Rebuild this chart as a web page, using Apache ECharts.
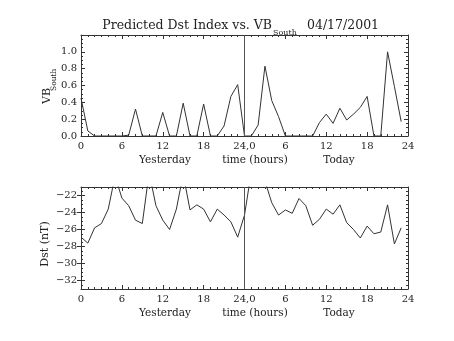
<!DOCTYPE html>
<html>
<head>
<meta charset="utf-8">
<script src="https://cdn.jsdelivr.net/npm/echarts@6/dist/echarts.min.js"></script>
<style>html,body{margin:0;padding:0;background:#fff}#c{width:454px;height:341px}</style>
</head>
<body>
<div id="c"></div>
<script>
const hours = [0,1,2,3,4,5,6,7,8,9,10,11,12,13,14,15,16,17,18,19,20,21,22,23,
               24,25,26,27,28,29,30,31,32,33,34,35,36,37,38,39,40,41,42,43,44,45,46,47];
const vbSouth = [0.45,0.06,0,0,0,0,0,0.01,0.32,0,0,0,0.28,0,0,0.39,0,0,0.38,0,0,0.12,0.47,0.61,
                 0,0,0.13,0.83,0.42,0.23,0,0,0,0,0,0.16,0.26,0.15,0.33,0.19,0.26,0.34,0.47,0,0,1.0,0.59,0.17];
const dst = [-26.9,-27.6,-25.8,-25.3,-23.6,-19.7,-22.3,-23.2,-24.9,-25.3,-19.3,-23.2,-24.9,-26.0,-23.6,-19.5,-23.7,-23.1,-23.6,-25.1,-23.6,-24.3,-25.1,-26.9,
             -24.3,-19.2,-18.5,-20.3,-22.85,-24.3,-23.7,-24.1,-22.35,-23.2,-25.5,-24.8,-23.6,-24.2,-23.1,-25.2,-26.0,-27.0,-25.6,-26.5,-26.3,-23.1,-27.7,-25.8];
const xTickLabels = ['0','6','12','18','24,0','6','12','18','24'];
const vbTickLabels = ['0.0','0.2','0.4','0.6','0.8','1.0'];
const dstTickValues = [-32,-30,-28,-26,-24,-22];
const titleMain = 'Predicted Dst Index vs. VB';
const titleSub = 'South';
const titleDate = '04/17/2001';
const xTitles = ['Yesterday','time (hours)','Today'];

const C = '#333', T = '#222', F = '"DejaVu Serif", serif';
const chart = echarts.init(document.getElementById('c'));

function xAx(grid, pos, labels) {
  return {type:'value', gridIndex:grid, position:pos, min:0, max:48, interval:6,
    axisLine:{show:true, onZero:false, lineStyle:{color:C, width:1}},
    axisTick:{show:true, inside:true, length:4, lineStyle:{color:C, width:1}},
    minorTick:{show:true, splitNumber:6, length:2, lineStyle:{color:C, width:1}},
    splitLine:{show:false}, minorSplitLine:{show:false},
    axisLabel:{show:labels, margin:5, color:T, fontFamily:F, fontSize:10,
      formatter: v => xTickLabels[Math.round(v/6)] || ''}};
}
function yTop(pos, labels) {
  return {type:'value', gridIndex:0, position:pos, min:0, max:1.2, interval:0.2,
    axisLine:{show:true, onZero:false, lineStyle:{color:C, width:1}},
    axisTick:{show:true, inside:true, length:4, lineStyle:{color:C, width:1}},
    minorTick:{show:true, splitNumber:4, length:2, lineStyle:{color:C, width:1}},
    splitLine:{show:false}, minorSplitLine:{show:false},
    axisLabel:{show:labels, margin:4, color:T, fontFamily:F, fontSize:10,
      formatter: v => vbTickLabels[Math.round(v/0.2)] || ''}};
}
function yBotMinor(pos) {
  return {type:'value', gridIndex:1, position:pos, min:-33, max:-21, interval:0.5,
    axisLine:{show:true, onZero:false, lineStyle:{color:C, width:1}},
    axisTick:{show:true, inside:true, length:2, lineStyle:{color:C, width:1}},
    splitLine:{show:false}, axisLabel:{show:false}};
}
function yBotMajor(pos, labels) {
  return {type:'value', gridIndex:1, position:pos, min:-33, max:-21,
    axisLine:{show:false},
    axisTick:{show:true, inside:true, length:4, customValues:dstTickValues, lineStyle:{color:C, width:1}},
    splitLine:{show:false},
    axisLabel:{show:labels, margin:4, color:T, fontFamily:F, fontSize:10, customValues:dstTickValues,
      formatter: v => String(v).replace('-', '\u2212')}};
}
const vLine = {silent:true, symbol:'none', label:{show:false},
  lineStyle:{color:'#555', width:1, type:'solid'}, data:[{xAxis:24}]};

function txt(x, y, text, size, align, rot) {
  return {type:'text', x:x, y:y, rotation:rot||0, silent:true,
    style:{text:text, fill:T, font:size+'px '+F, align:align, verticalAlign:'middle'}};
}

chart.setOption({
  animation:false,
  backgroundColor:'#fff',
  grid:[{left:81, top:35, width:327, height:101},
        {left:81, top:187, width:327, height:102}],
  xAxis:[xAx(0,'bottom',true), xAx(0,'top',false), xAx(1,'bottom',true), xAx(1,'top',false)],
  yAxis:[yTop('left',true), yTop('right',false),
         yBotMinor('left'), yBotMajor('left',true), yBotMinor('right'), yBotMajor('right',false)],
  series:[
    {type:'line', xAxisIndex:0, yAxisIndex:0, data:hours.map((h,i)=>[h, vbSouth[i]]),
     showSymbol:false, symbol:'none', clip:true, lineStyle:{color:'#333', width:1}, markLine:vLine},
    {type:'line', xAxisIndex:2, yAxisIndex:2, data:hours.map((h,i)=>[h, dst[i]]),
     showSymbol:false, symbol:'none', clip:true, lineStyle:{color:'#333', width:1}, markLine:vLine}
  ],
  graphic:[
    txt(272, 26, titleMain, 12.5, 'right'),
    txt(273, 33, titleSub, 8, 'left'),
    txt(307, 26, titleDate, 12.5, 'left'),
    txt(47, 104, 'VB', 11, 'left', Math.PI/2),
    txt(54, 91, 'South', 7.5, 'left', Math.PI/2),
    txt(45, 244, 'Dst (nT)', 11, 'center', Math.PI/2),
    txt(165, 160, xTitles[0], 10.5, 'center'),
    txt(255, 160, xTitles[1], 10.5, 'center'),
    txt(339, 160, xTitles[2], 10.5, 'center'),
    txt(165, 313, xTitles[0], 10.5, 'center'),
    txt(255, 313, xTitles[1], 10.5, 'center'),
    txt(339, 313, xTitles[2], 10.5, 'center')
  ]
});
</script>
</body>
</html>
